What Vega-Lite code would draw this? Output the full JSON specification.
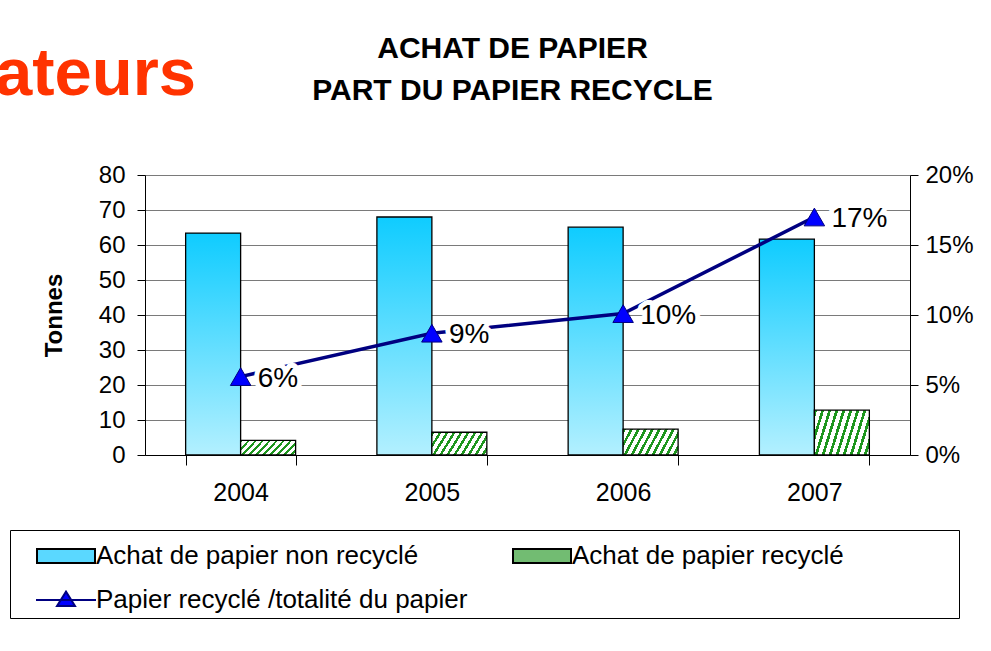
{
"$schema": "https://vega.github.io/schema/vega-lite/v6.json",
"autosize": "none",
"width": 765,
"height": 280,
"padding": {"left": 145, "top": 175, "right": 81, "bottom": 196},
"background": "white",
"config": {"font": "Liberation Sans", "view": {"stroke": null},
  "legend": {"orient": "none", "legendX": -135, "legendY": 355, "direction": "horizontal", "columns": 2,
             "columnPadding": 23, "rowPadding": 10, "gridAlign": "all", "symbolSize": 1600, "labelFontSize": 26, "labelFont": "Liberation Sans",
             "labelColor": "black", "labelLimit": 0, "labelOffset": 9, "symbolOffset": 30, "strokeColor": "black", "padding": 5, "fillColor": "white",
             "symbolStrokeWidth": 2, "symbolOpacity": 1, "titleOrient": "right", "titlePadding": 110, "titleFontSize": 10}},
"title": {"text": ["ACHAT DE PAPIER", "PART DU PAPIER RECYCLE"], "fontSize": 30, "font": "Liberation Sans", "fontWeight": "bold", "anchor": "middle", "frame": "group", "lineHeight": 42, "offset": -65, "dx": -15, "color": "black"},
"datasets": {
  "bars": [
    {"year": "2004", "series": "Achat de papier non recyclé", "tonnes": 63.4},
    {"year": "2005", "series": "Achat de papier non recyclé", "tonnes": 68.0},
    {"year": "2006", "series": "Achat de papier non recyclé", "tonnes": 65.1},
    {"year": "2007", "series": "Achat de papier non recyclé", "tonnes": 61.7},
    {"year": "2004", "series": "Achat de papier recyclé", "tonnes": 4.2},
    {"year": "2005", "series": "Achat de papier recyclé", "tonnes": 6.5},
    {"year": "2006", "series": "Achat de papier recyclé", "tonnes": 7.4},
    {"year": "2007", "series": "Achat de papier recyclé", "tonnes": 12.8}
  ],
  "pct": [
    {"year": "2004", "series": "Papier recyclé /totalité du papier", "share": 0.056},
    {"year": "2005", "series": "Papier recyclé /totalité du papier", "share": 0.087},
    {"year": "2006", "series": "Papier recyclé /totalité du papier", "share": 0.101},
    {"year": "2007", "series": "Papier recyclé /totalité du papier", "share": 0.170}
  ],
  "legendrows": [
    {"series": "Achat de papier non recyclé", "year": null, "share": null},
    {"series": "Achat de papier recyclé", "year": null, "share": null},
    {"series": "Papier recyclé /totalité du papier", "year": null, "share": null}
  ]
},
"layer": [
  {
    "data": {"name": "bars"},
    "encoding": {
      "x": {"field": "year", "type": "nominal", "sort": null,
            "scale": {"paddingInner": 0.425, "paddingOuter": 0.2125},
            "axis": {"title": null, "labelAngle": 0, "labelFontSize": 25, "labelColor": "black", "labelPadding": 15,
                     "domainColor": "black", "domainWidth": 1, "tickColor": "black", "tickSize": 10, "tickBand": "extent"}},
      "xOffset": {"field": "series", "type": "nominal", "scale": {"domain": ["Achat de papier non recyclé", "Achat de papier recyclé"], "paddingInner": 0, "paddingOuter": 0}},
      "y": {"field": "tonnes", "type": "quantitative", "scale": {"domain": [0, 80], "nice": false},
            "axis": {"title": "Tonnes", "titleFontSize": 24, "titleFontWeight": "bold", "titleColor": "black", "titlePadding": 32,
                     "values": [0, 10, 20, 30, 40, 50, 60, 70, 80], "labelFontSize": 24, "labelColor": "black", "labelPadding": 12,
                     "domainColor": "black", "tickColor": "black", "tickSize": 8, "grid": true, "gridColor": "#7a7a7a", "gridWidth": 1}}
    },
    "layer": [
      {
        "transform": [{"filter": "datum.series === 'Achat de papier non recyclé'"}],
        "mark": {"type": "bar", "stroke": "black", "strokeWidth": 1.3,
                 "fill": {"gradient": "linear", "x1": 0, "y1": 0, "x2": 0, "y2": 1,
                          "stops": [{"offset": 0, "color": "#0FCCFF"}, {"offset": 1, "color": "#B3F0FF"}]}}
      },
      {
        "transform": [{"filter": "datum.series === 'Achat de papier recyclé'"}],
        "mark": {"type": "bar", "stroke": "black", "strokeWidth": 1.3,
                 "fill": {"gradient": "linear", "x1": 0, "y1": 0, "x2": 1.2, "y2": 0.3,
                          "stops": [
                            {"offset": 0, "color": "#1E961E"}, {"offset": 0.04, "color": "#1E961E"}, {"offset": 0.04, "color": "#FFFFFF"}, {"offset": 0.1, "color": "#FFFFFF"},
                            {"offset": 0.1, "color": "#1E961E"}, {"offset": 0.14, "color": "#1E961E"}, {"offset": 0.14, "color": "#FFFFFF"}, {"offset": 0.2, "color": "#FFFFFF"},
                            {"offset": 0.2, "color": "#1E961E"}, {"offset": 0.24, "color": "#1E961E"}, {"offset": 0.24, "color": "#FFFFFF"}, {"offset": 0.3, "color": "#FFFFFF"},
                            {"offset": 0.3, "color": "#1E961E"}, {"offset": 0.34, "color": "#1E961E"}, {"offset": 0.34, "color": "#FFFFFF"}, {"offset": 0.4, "color": "#FFFFFF"},
                            {"offset": 0.4, "color": "#1E961E"}, {"offset": 0.44, "color": "#1E961E"}, {"offset": 0.44, "color": "#FFFFFF"}, {"offset": 0.5, "color": "#FFFFFF"},
                            {"offset": 0.5, "color": "#1E961E"}, {"offset": 0.54, "color": "#1E961E"}, {"offset": 0.54, "color": "#FFFFFF"}, {"offset": 0.6, "color": "#FFFFFF"},
                            {"offset": 0.6, "color": "#1E961E"}, {"offset": 0.64, "color": "#1E961E"}, {"offset": 0.64, "color": "#FFFFFF"}, {"offset": 0.7, "color": "#FFFFFF"},
                            {"offset": 0.7, "color": "#1E961E"}, {"offset": 0.74, "color": "#1E961E"}, {"offset": 0.74, "color": "#FFFFFF"}, {"offset": 0.8, "color": "#FFFFFF"},
                            {"offset": 0.8, "color": "#1E961E"}, {"offset": 0.84, "color": "#1E961E"}, {"offset": 0.84, "color": "#FFFFFF"}, {"offset": 0.9, "color": "#FFFFFF"},
                            {"offset": 0.9, "color": "#1E961E"}, {"offset": 0.94, "color": "#1E961E"}, {"offset": 0.94, "color": "#FFFFFF"}, {"offset": 1, "color": "#FFFFFF"}
                          ]}}
      }
    ]
  },
  {
    "data": {"name": "pct"},
    "encoding": {
      "x": {"field": "year", "type": "nominal", "sort": null},
      "y": {"field": "share", "type": "quantitative", "scale": {"domain": [0, 0.2], "nice": false},
            "axis": {"orient": "right", "title": null, "format": ".0%", "values": [0, 0.05, 0.1, 0.15, 0.2], "labelFontSize": 24, "labelColor": "black",
                     "labelPadding": 7, "domainColor": "black", "tickColor": "black", "tickSize": 8, "grid": false}}
    },
    "layer": [
      {"mark": {"type": "line", "color": "#000080", "strokeWidth": 3.5}},
      {"mark": {"type": "text", "align": "left", "baseline": "middle", "dx": 17, "dy": 2, "fontSize": 28, "fill": "white", "stroke": "white", "strokeWidth": 10, "strokeJoin": "round"},
       "encoding": {"text": {"field": "share", "type": "quantitative", "format": ".0%"}}},
      {"mark": {"type": "point", "shape": "triangle-up", "filled": true, "size": 420, "opacity": 1, "fill": "#0000FF", "stroke": "#000080", "strokeWidth": 1}},
      {"mark": {"type": "text", "align": "left", "baseline": "middle", "dx": 17, "dy": 2, "fontSize": 28, "color": "black"},
       "encoding": {"text": {"field": "share", "type": "quantitative", "format": ".0%"}}},
      {"data": {"name": "legendrows"},
       "mark": {"type": "point", "filled": true, "opacity": 1, "size": 1600, "strokeWidth": 2},
       "encoding": {
         "color": {"field": "series", "type": "nominal",
                   "scale": {"domain": ["Achat de papier non recyclé", "Achat de papier recyclé", "Papier recyclé /totalité du papier"],
                             "range": ["#5AD8FF", "#72BC72", "#0000FF"]},
                   "legend": {"title": " "}},
         "stroke": {"field": "series", "type": "nominal",
                    "scale": {"domain": ["Achat de papier non recyclé", "Achat de papier recyclé", "Papier recyclé /totalité du papier"], "range": ["#000000", "#000000", "#000080"]},
                    "legend": {"title": " "}},
         "shape": {"field": "series", "type": "nominal",
                   "scale": {"domain": ["Achat de papier non recyclé", "Achat de papier recyclé", "Papier recyclé /totalité du papier"],
                             "range": ["M-1.45,-0.35H1.45V0.35H-1.45Z", "M-1.45,-0.35H1.45V0.35H-1.45Z", "M-1.5,0H1.5M-0.45,0.3L0,-0.42L0.45,0.3Z"]},
                   "legend": {"title": " "}}
       }}
    ]
  },
  {
    "data": {"values": [{"label": "ateurs"}]},
    "mark": {"type": "text", "align": "right", "baseline": "alphabetic", "fontSize": 67, "fontWeight": "bold", "font": "Liberation Sans", "color": "#FF3300"},
    "encoding": {"text": {"field": "label", "type": "nominal"}, "x": {"value": 51}, "y": {"value": -80}}
  }
],
"resolve": {"scale": {"y": "independent"}}
}
